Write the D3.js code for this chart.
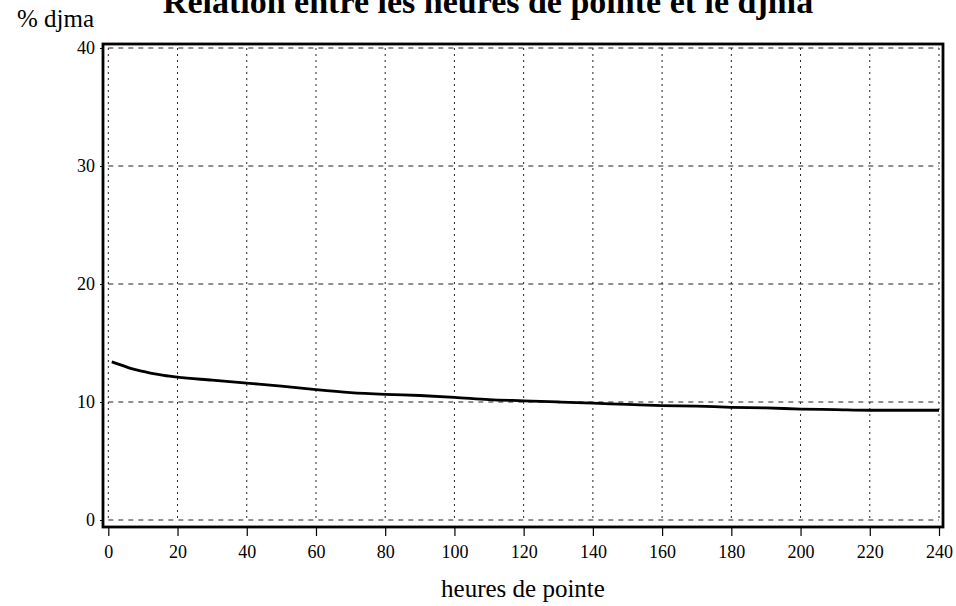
<!DOCTYPE html>
<html>
<head>
<meta charset="utf-8">
<script src="https://cdn.jsdelivr.net/npm/d3@7"></script>
<style>
  html, body { margin: 0; padding: 0; background: #fff; }
  svg { display: block; }
  text { font-family: "Liberation Serif", "Times New Roman", serif; fill: #000; }
</style>
</head>
<body>
<svg id="chart" width="956" height="606"></svg>
<script>
// ---- data ----
const titleText = "Relation entre les heures de pointe et le djma";
const yAxisLabel = "% djma";
const xAxisLabel = "heures de pointe";
const xTicks = [0, 20, 40, 60, 80, 100, 120, 140, 160, 180, 200, 220, 240];
const yTicks = [0, 10, 20, 30, 40];
const hours = [1, 4, 7, 10, 13, 16, 20, 30, 40, 50, 60, 70, 80, 90, 100, 110, 120, 130, 140, 150, 160, 170, 180, 190, 200, 210, 220, 230, 240];
const pctDjma = [13.4, 13.1, 12.8, 12.6, 12.4, 12.25, 12.1, 11.85, 11.6, 11.35, 11.05, 10.8, 10.65, 10.55, 10.4, 10.2, 10.1, 10.0, 9.9, 9.8, 9.7, 9.65, 9.55, 9.5, 9.4, 9.35, 9.3, 9.3, 9.3];

// ---- layout ----
const svg = d3.select("#chart");
const frame = { left: 103, right: 943, top: 44, bottom: 527 };
const x = d3.scaleLinear().domain([0, 240]).range([108.3, 939]);
const y = d3.scaleLinear().domain([0, 40]).range([520, 48]);

// grid
const grid = svg.append("g");
grid.selectAll("line.v").data(xTicks).enter().append("line")
  .attr("x1", d => x(d)).attr("x2", d => x(d))
  .attr("y1", y(40)).attr("y2", y(0))
  .attr("stroke", "#222").attr("stroke-width", 1)
  .attr("stroke-dasharray", "2,4");
grid.selectAll("line.h").data(yTicks).enter().append("line")
  .attr("x1", x(0)).attr("x2", x(240))
  .attr("y1", d => y(d)).attr("y2", d => y(d))
  .attr("stroke", "#222").attr("stroke-width", 1)
  .attr("stroke-dasharray", "5,5");

// frame
svg.append("rect")
  .attr("x", frame.left).attr("y", frame.top)
  .attr("width", frame.right - frame.left)
  .attr("height", frame.bottom - frame.top)
  .attr("fill", "none").attr("stroke", "#000").attr("stroke-width", 2.8);

// x axis
const xAxis = svg.append("g")
  .attr("transform", `translate(0,${frame.bottom})`)
  .call(d3.axisBottom(x).tickValues(xTicks).tickSize(9).tickPadding(9).tickFormat(d3.format("d")));
xAxis.select(".domain").remove();
xAxis.selectAll(".tick line").attr("stroke", "#000").attr("stroke-width", 1.2);
xAxis.selectAll("text").attr("font-size", 18).attr("font-family", "Liberation Serif, serif").attr("fill", "#000");

// y axis
const yAxis = svg.append("g")
  .attr("transform", `translate(${frame.left},0)`)
  .call(d3.axisLeft(y).tickValues(yTicks).tickSize(3).tickPadding(5).tickFormat(d3.format("d")));
yAxis.select(".domain").remove();
yAxis.selectAll(".tick line").attr("stroke", "#000").attr("stroke-width", 1);
yAxis.selectAll("text").attr("font-size", 18).attr("font-family", "Liberation Serif, serif").attr("fill", "#000");

// curve
const line = d3.line()
  .x((d, i) => x(hours[i]))
  .y(d => y(d))
  .curve(d3.curveMonotoneX);
svg.append("path")
  .datum(pctDjma)
  .attr("d", line)
  .attr("fill", "none")
  .attr("stroke", "#000")
  .attr("stroke-width", 2.8);

// texts
svg.append("text")
  .attr("x", 488).attr("y", 13)
  .attr("text-anchor", "middle")
  .attr("font-size", 34).attr("font-weight", "bold")
  .text(titleText);
svg.append("text")
  .attr("x", 17).attr("y", 27)
  .attr("font-size", 25)
  .text(yAxisLabel);
svg.append("text")
  .attr("x", 523).attr("y", 597)
  .attr("text-anchor", "middle")
  .attr("font-size", 25)
  .text(xAxisLabel);
</script>
</body>
</html>
